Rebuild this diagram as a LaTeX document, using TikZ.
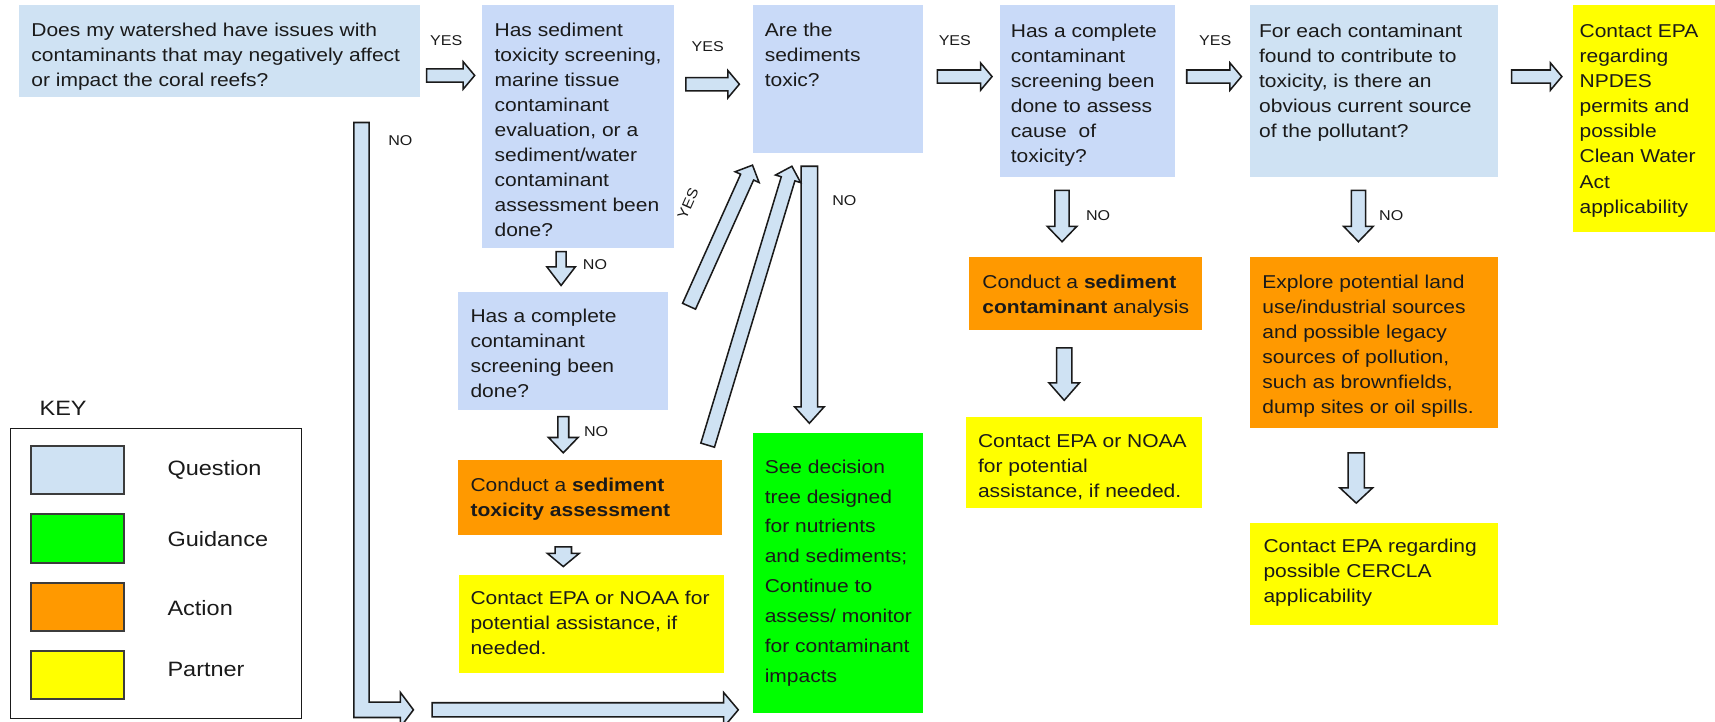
\documentclass[tikz,border=0pt]{standalone}
\usepackage{fontspec}
\setmainfont{Liberation Sans}[FakeStretch=1.13]
\usetikzlibrary{calc}
\definecolor{qa}{HTML}{CFE2F3}
\definecolor{qb}{HTML}{C9DAF8}
\definecolor{act}{HTML}{FF9900}
\definecolor{par}{HTML}{FFFF00}
\definecolor{gui}{HTML}{00FF00}
\definecolor{arrfill}{HTML}{CFE2F3}
\definecolor{ink}{HTML}{1A1A1A}
\newcommand\lines[1]{\begin{tabular}[t]{@{}l@{}}#1\end{tabular}}
\newcommand\bx[6]{\node[box,fill=#2,minimum width={(#5-#3)*1pt},minimum height={(#6-#4)*1pt},anchor=north west] (#1) at (#3,#4) {};}
\newcommand\blockarrow[5]{%
  \coordinate (bah) at ($(#2)!#5!(#1)$);
  \draw[blk] ($(#1)!#3!90:(#2)$) -- ($(bah)!#3!90:(#2)$) -- ($(bah)!#4!90:(#2)$) -- (#2) -- ($(bah)!#4!-90:(#2)$) -- ($(bah)!#3!-90:(#2)$) -- ($(#1)!#3!-90:(#2)$) -- cycle;}
\begin{document}
\begin{tikzpicture}[x=1pt,y=-1pt,
  box/.style={inner sep=0pt,outer sep=0pt,draw=none},
  txt/.style={inner sep=0pt,anchor=base west,text=ink,font=\fontsize{17}{22.9}\selectfont},
  lbl/.style={inner sep=0pt,text=ink,font=\fontsize{13}{15}\selectfont},
  blk/.style={fill=arrfill,draw=ink,line width=1.4pt,line join=miter},
  swatch/.style={draw=ink!85,line width=2pt},
  keyt/.style={inner sep=0pt,anchor=west,text=ink,font=\fontsize{19}{22}\selectfont}]
\useasboundingbox (0,0) rectangle (1568,660);
\fill[white] (0,0) rectangle (1568,660);
\clip (0,0) rectangle (1568,660);

% boxes
\bx{q1}{qa}{17}{5}{384}{89}
\bx{q2}{qb}{441}{5}{616}{227}
\bx{q3}{qb}{688}{5}{844}{140}
\bx{q4}{qb}{914}{5}{1074}{162}
\bx{q5}{qa}{1143}{5}{1370}{162}
\bx{p1}{par}{1438}{5}{1568}{212}
\bx{q6}{qb}{419}{267}{611}{375}
\bx{a1}{act}{419}{421}{660}{489}
\bx{p2}{par}{420}{526}{662}{615}
\bx{g1}{gui}{688}{396}{844}{652}
\bx{a2}{act}{886}{235}{1099}{302}
\bx{p3}{par}{883}{381}{1099}{464}
\bx{a3}{act}{1143}{235}{1370}{391}
\bx{p4}{par}{1143}{478}{1370}{571}

% texts
\node[txt] (q1t) at ($(q1.north west)+(11.5,28)$) {\lines{Does my watershed have issues with\\contaminants that may negatively affect\\or impact the coral reefs?}};
\node[txt] (q2t) at ($(q2.north west)+(11,28)$) {\lines{Has sediment\\toxicity screening,\\marine tissue\\contaminant\\evaluation, or a\\sediment/water\\contaminant\\assessment been\\done?}};
\node[txt] (q3t) at ($(q3.north west)+(11,28)$) {\lines{Are the\\sediments\\toxic?}};
\node[txt] (q4t) at ($(q4.north west)+(10,29.5)$) {\lines{Has a complete\\contaminant\\screening been\\done to assess\\cause\ \ of\\toxicity?}};
\node[txt] (q5t) at ($(q5.north west)+(8,29.5)$) {\lines{For each contaminant\\found to contribute to\\toxicity, is there an\\obvious current source\\of the pollutant?}};
\node[txt] (p1t) at ($(p1.north west)+(6,29.5)$) {\lines{Contact EPA\\regarding\\NPDES\\permits and\\possible\\Clean Water\\Act\\applicability}};
\node[txt] (q6t) at ($(q6.north west)+(11,28)$) {\lines{Has a complete\\contaminant\\screening been\\done?}};
\node[txt] (a1t) at ($(a1.north west)+(11,28)$) {\lines{Conduct a \textbf{sediment}\\\textbf{toxicity assessment}}};
\node[txt] (p2t) at ($(p2.north west)+(10,27)$) {\lines{Contact EPA or NOAA for\\potential assistance, if\\needed.}};
\node[txt,font=\fontsize{17}{27.4}\selectfont] (g1t) at ($(g1.north west)+(11,36.5)$) {\lines{See decision\\tree designed\\for nutrients\\and sediments;\\Continue to\\assess/ monitor\\for contaminant\\impacts}};
\node[txt] (a2t) at ($(a2.north west)+(12,28.5)$) {\lines{Conduct a \textbf{sediment}\\\textbf{contaminant} analysis}};
\node[txt] (p3t) at ($(p3.north west)+(11,28.5)$) {\lines{Contact EPA or NOAA\\for potential\\assistance, if needed.}};
\node[txt] (a3t) at ($(a3.north west)+(11,28.5)$) {\lines{Explore potential land\\use/industrial sources\\and possible legacy\\sources of pollution,\\such as brownfields,\\dump sites or oil spills.}};
\node[txt] (p4t) at ($(p4.north west)+(12,27.5)$) {\lines{Contact EPA regarding\\possible CERCLA\\applicability}};

% arrow end points
\coordinate (r1s) at (390,69);   \coordinate (r1e) at (434,69);
\coordinate (r2s) at (627,77);   \coordinate (r2e) at (676,77);
\coordinate (r3s) at (857,70);   \coordinate (r3e) at (907,70);
\coordinate (r4s) at (1085,70);  \coordinate (r4e) at (1135,70);
\coordinate (r5s) at (1382,70);  \coordinate (r5e) at (1428,70);
\coordinate (d1s) at (513,230);  \coordinate (d1e) at (513,261);
\coordinate (d2s) at (515,381);  \coordinate (d2e) at (515,414);
\coordinate (d3s) at (515,500);  \coordinate (d3e) at (515,518);
\coordinate (d4s) at (971,174);  \coordinate (d4e) at (971,221);
\coordinate (d5s) at (1242,174); \coordinate (d5e) at (1242,221);
\coordinate (d6s) at (973,318);  \coordinate (d6e) at (973,366);
\coordinate (d7s) at (1240,414); \coordinate (d7e) at (1240,460);
\coordinate (n3s) at (740,152);  \coordinate (n3e) at (740,387);
\coordinate (y6s) at (630,280);  \coordinate (y6e) at (688,151);
\coordinate (y7s) at (647,407);  \coordinate (y7e) at (724,152);
\coordinate (lgs) at (395,649);  \coordinate (lge) at (675,649);

\blockarrow{r1s}{r1e}{6pt}{12.5pt}{10.5pt}
\blockarrow{r2s}{r2e}{6pt}{12.5pt}{10.5pt}
\blockarrow{r3s}{r3e}{6pt}{12.5pt}{10.5pt}
\blockarrow{r4s}{r4e}{6pt}{12.5pt}{10.5pt}
\blockarrow{r5s}{r5e}{6pt}{12.5pt}{10.5pt}
\blockarrow{d1s}{d1e}{4.5pt}{13pt}{17pt}
\blockarrow{d2s}{d2e}{5pt}{13.5pt}{14pt}
\blockarrow{d3s}{d3e}{7.5pt}{14.5pt}{12pt}
\blockarrow{d4s}{d4e}{6.5pt}{13.5pt}{14pt}
\blockarrow{d5s}{d5e}{6.5pt}{13.5pt}{14pt}
\blockarrow{d6s}{d6e}{7pt}{14pt}{16pt}
\blockarrow{d7s}{d7e}{7.5pt}{15pt}{14pt}
\blockarrow{n3s}{n3e}{7.5pt}{13.5pt}{15pt}
\blockarrow{y6s}{y6e}{6.5pt}{12pt}{12pt}
\blockarrow{y7s}{y7e}{6.5pt}{12pt}{12pt}
\blockarrow{lgs}{lge}{6.5pt}{16pt}{13.5pt}
% L-shaped NO arrow
\draw[blk] (323.5,112) -- (337.5,112) -- (337.5,642) -- (366,642) -- (366,633) -- (378,649) -- (366,665) -- (366,656) -- (323.5,656) -- cycle;

% labels
\node[lbl] (yes1) at (408,37) {YES};
\node[lbl] (yes2) at (647,43) {YES};
\node[lbl] (yes3) at (873,37) {YES};
\node[lbl] (yes4) at (1111,37) {YES};
\node[lbl,rotate=66] (yes5) at (629,186) {YES};
\node[lbl] (no1) at (366,129) {NO};
\node[lbl] (no2) at (544,242) {NO};
\node[lbl] (no3) at (545,395) {NO};
\node[lbl] (no4) at (772,183) {NO};
\node[lbl] (no5) at (1004,197) {NO};
\node[lbl] (no6) at (1272,197) {NO};

% key
\node[keyt] (keyh) at (36,373) {KEY};
\node[draw=ink,line width=1.5pt,inner sep=0pt,minimum width=266pt,minimum height=265pt,anchor=north west] (keyb) at (9,391) {};
\node[swatch,fill=qa,minimum width=85pt,minimum height=44pt,anchor=north west,inner sep=0pt] (kq) at (27,407) {};
\node[swatch,fill=gui,minimum width=85pt,minimum height=45pt,anchor=north west,inner sep=0pt] (kg) at (27,469) {};
\node[swatch,fill=act,minimum width=85pt,minimum height=44pt,anchor=north west,inner sep=0pt] (ka) at (27,532) {};
\node[swatch,fill=par,minimum width=85pt,minimum height=44pt,anchor=north west,inner sep=0pt] (kp) at (27,594) {};
\node[keyt] (kqt) at (153,430) {Question};
\node[keyt] (kgt) at (153,493) {Guidance};
\node[keyt] (kat) at (153,556) {Action};
\node[keyt] (kpt) at (153,612) {Partner};
\end{tikzpicture}
\end{document}
